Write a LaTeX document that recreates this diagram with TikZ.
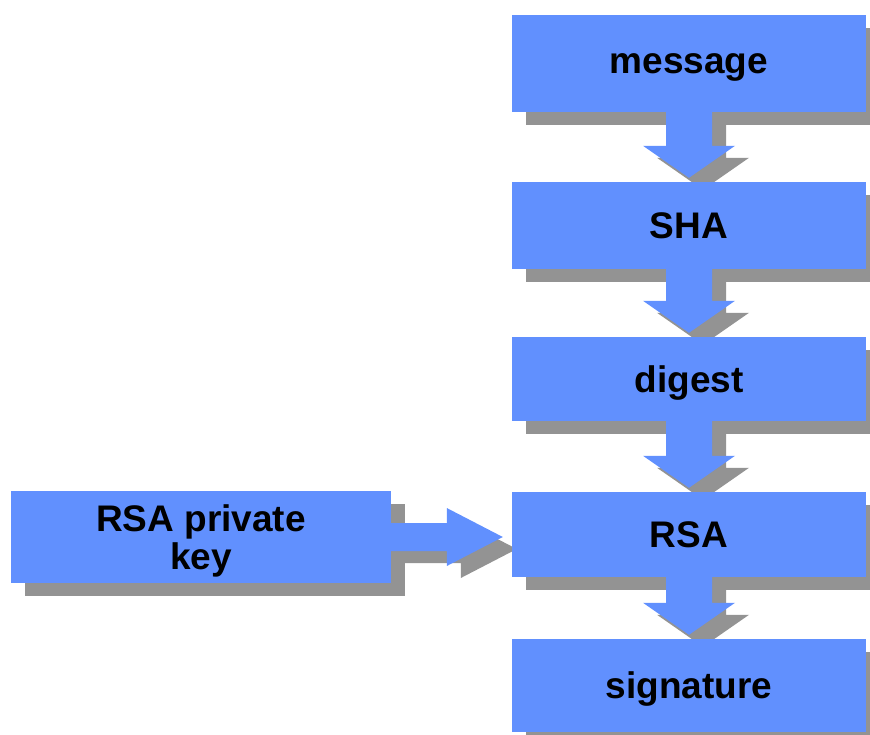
\documentclass[tikz,border=0pt]{standalone}
\usepackage{fontspec}
\setmainfont{Liberation Sans}
\usetikzlibrary{positioning,calc,shadows}

\pgfdeclarelayer{shadow}
\pgfdeclarelayer{arrow}
\pgfsetlayers{shadow,arrow,main}

\definecolor{boxblue}{RGB}{97,144,254}
\definecolor{shadowgray}{RGB}{147,147,147}

% block arrow going down from #1 to #2
\newcommand{\flowdown}[2]{%
  \path[flowarrow] ($(#1.south)+(-23,0)$) -- ($(#2.north)+(-23,-36)$)
    -- ($(#2.north)+(-46,-36)$) -- ($(#2.north)+(0,-4)$)
    -- ($(#2.north)+(46,-36)$) -- ($(#2.north)+(23,-36)$)
    -- ($(#1.south)+(23,0)$) -- cycle;}

% block arrow going right from #1 to #2
\newcommand{\flowright}[2]{%
  \path[flowarrow] ($(#1.east)+(0,-14)$) -- ($(#1.east -| #2.west)+(-65,-14)$)
    -- ($(#1.east -| #2.west)+(-65,-29)$) -- ($(#1.east -| #2.west)+(-9,0)$)
    -- ($(#1.east -| #2.west)+(-65,29)$) -- ($(#1.east -| #2.west)+(-65,14)$)
    -- ($(#1.east)+(0,14)$) -- cycle;}

\begin{document}
\begin{tikzpicture}[x=1pt,y=-1pt,
  box/.style={fill=boxblue,minimum width=354pt,inner sep=0pt,align=center,
    text depth=0pt,font=\fontsize{37}{38}\selectfont\bfseries},
  flowarrow/.style={fill=boxblue,
    drop shadow={shadow xshift=14pt,shadow yshift=-12pt,fill=shadowgray,opacity=1}}]
\useasboundingbox (0,0) rectangle (870,734);

% Nodes
\node[box,minimum height=97pt] (message) at (689,63.5) {message};
\node[box,minimum height=87pt] (SHA) at (689,225.5) {SHA};
\node[box,minimum height=84pt] (digest) at (689,379) {digest};
\node[box,minimum height=85pt] (RSA) at (689,534.5) {RSA};
\node[box,minimum height=93pt] (signature) at (689,685.5) {signature};
\node[box,minimum width=380pt,minimum height=92pt] (key) at (201,537) {RSA private\\key};

% Shadows
\begin{pgfonlayer}{shadow}
\foreach \n in {message,SHA,digest,RSA,signature,key}
  \fill[shadowgray] ($(\n.north west)+(14,13)$) rectangle ($(\n.south east)+(14,13)$);
\end{pgfonlayer}

% Arrows
\begin{pgfonlayer}{arrow}
\flowdown{message}{SHA}
\flowdown{SHA}{digest}
\flowdown{digest}{RSA}
\flowdown{RSA}{signature}
\flowright{key}{RSA}
\end{pgfonlayer}

\end{tikzpicture}
\end{document}
